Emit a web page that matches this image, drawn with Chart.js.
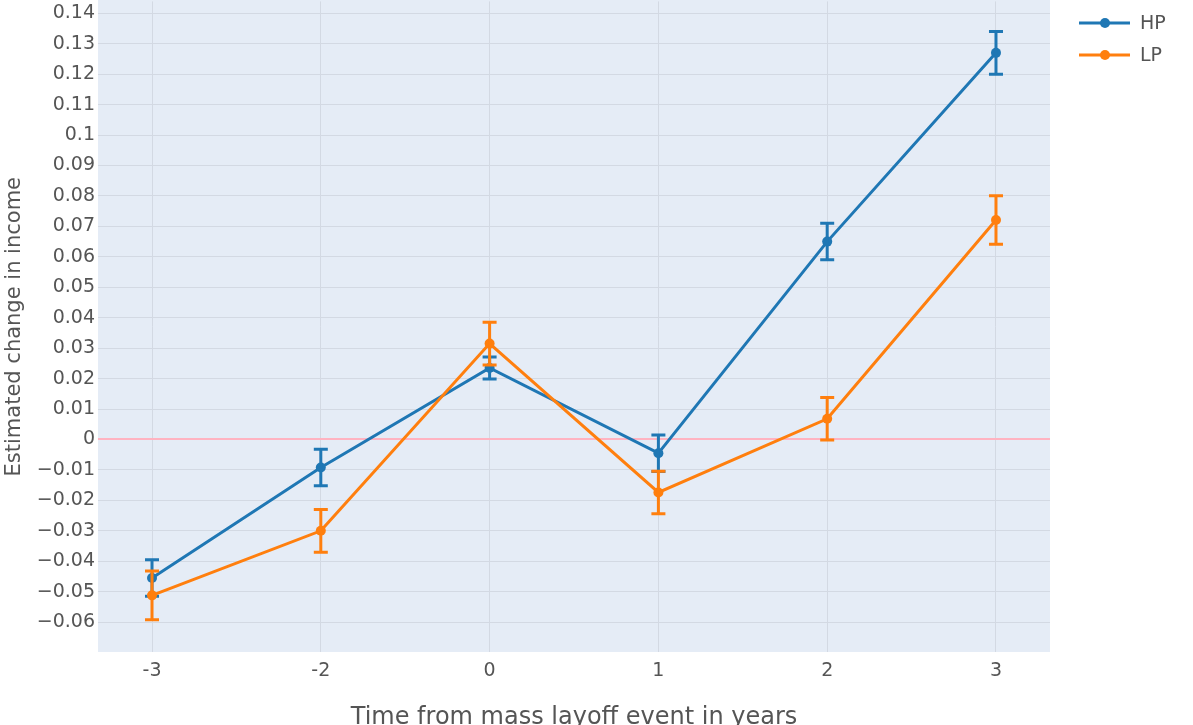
<!DOCTYPE html>
<html>
<head>
<meta charset="utf-8">
<script src="https://cdn.jsdelivr.net/npm/chart.js@4/dist/chart.umd.min.js"></script>
<style>
  html, body { margin: 0; padding: 0; background: #fff; overflow: hidden; }
  #wrap { width: 1193px; height: 725px; overflow: hidden; position: relative; }
  /* plot touches the top edge of the picture, so shift the canvas up */
  #incomeChart { position: absolute; left: 0; top: -13px; }
</style>
</head>
<body>
<div id="wrap"><canvas id="incomeChart" width="1193" height="738"></canvas></div>
<script>
// years relative to the layoff event
var years = ['-3', '-2', '0', '1', '2', '3'];

var hpValues = [-0.0455, -0.0092, 0.0235, -0.0045, 0.065, 0.127];
var hpErrors = [0.006, 0.006, 0.0036, 0.006, 0.006, 0.007];

var lpValues = [-0.0512, -0.030, 0.0315, -0.0174, 0.0068, 0.0721];
var lpErrors = [0.008, 0.007, 0.007, 0.007, 0.007, 0.008];

var FONT = 'DejaVu Sans';
var TEXT = '#555';
var SHIFT = 13;

function toPoints(vals) {
    return vals.map(function (v, i) { return { x: i, y: v }; });
}

// plot background
var plotBg = {
    id: 'plotBg',
    beforeDraw: function (chart) {
        var a = chart.chartArea, c = chart.ctx;
        c.save();
        c.fillStyle = '#e5ecf6';
        c.fillRect(a.left, a.top - SHIFT, a.right - a.left, a.bottom - a.top + SHIFT);
        c.restore();
    }
};

// vertical error bars, drawn with the dataset they belong to
var errorBars = {
    id: 'errorBars',
    afterDatasetDraw: function (chart, args) {
        var ds = chart.data.datasets[args.index];
        if (!ds.errors) return;
        var c = chart.ctx, xs = chart.scales.x, ys = chart.scales.y;
        c.save();
        c.strokeStyle = ds.borderColor;
        c.lineWidth = 3;
        ds.data.forEach(function (p, i) {
            var e = ds.errors[i];
            var x = xs.getPixelForValue(p.x);
            var y1 = ys.getPixelForValue(p.y + e);
            var y2 = ys.getPixelForValue(p.y - e);
            c.beginPath();
            c.moveTo(x, y1); c.lineTo(x, y2);
            c.moveTo(x - 7, y1); c.lineTo(x + 7, y1);
            c.moveTo(x - 7, y2); c.lineTo(x + 7, y2);
            c.stroke();
        });
        c.restore();
    }
};

// legend at the top right, line with a dot like the original
var sideLegend = {
    id: 'sideLegend',
    afterDraw: function (chart) {
        var c = chart.ctx;
        c.save();
        chart.data.datasets.forEach(function (ds, i) {
            var y = SHIFT + 23 + i * 32;
            c.strokeStyle = ds.borderColor;
            c.lineWidth = 3;
            c.beginPath();
            c.moveTo(1079, y); c.lineTo(1130, y);
            c.stroke();
            c.fillStyle = ds.borderColor;
            c.beginPath();
            c.arc(1105, y, 5, 0, Math.PI * 2);
            c.fill();
            c.fillStyle = TEXT;
            c.font = '19px "' + FONT + '"';
            c.textBaseline = 'middle';
            c.fillText(ds.label, 1140, y + 1);
        });
        c.restore();
    }
};

var ctx = document.getElementById('incomeChart').getContext('2d');
var incomeChart = new Chart(ctx, {
    type: 'line',
    data: {
        datasets: [{
            label: 'HP',
            data: toPoints(hpValues),
            errors: hpErrors,
            borderColor: '#1f77b4',
            backgroundColor: '#1f77b4',
            borderWidth: 3,
            pointRadius: 5,
            pointBorderWidth: 0,
            pointHoverRadius: 5,
            order: 2
        }, {
            label: 'LP',
            data: toPoints(lpValues),
            errors: lpErrors,
            borderColor: '#ff7f0e',
            backgroundColor: '#ff7f0e',
            borderWidth: 3,
            pointRadius: 5,
            pointBorderWidth: 0,
            pointHoverRadius: 5,
            order: 1
        }]
    },
    options: {
        responsive: false,
        animation: false,
        layout: {
            padding: { left: 0, right: 143, top: 0, bottom: 0 }
        },
        plugins: {
            legend: { display: false },
            tooltip: { enabled: false }
        },
        scales: {
            x: {
                type: 'linear',
                min: -0.32,
                max: 5.32,
                afterFit: function (s) { s.height = 73; },
                border: { display: false },
                grid: { color: '#d3d9e3', lineWidth: 1, drawTicks: false },
                ticks: {
                    stepSize: 1,
                    includeBounds: false,
                    padding: 8,
                    color: TEXT,
                    font: { family: FONT, size: 19 },
                    callback: function (v) {
                        return Number.isInteger(v) ? years[v] : '';
                    }
                },
                title: {
                    display: true,
                    text: 'Time from mass layoff event in years',
                    color: TEXT,
                    font: { family: FONT, size: 24 },
                    padding: { top: 0, bottom: -7 }
                }
            },
            y: {
                min: -0.0698,
                max: 0.1439,
                afterFit: function (s) { s.width = 98; },
                border: { display: false },
                grid: {
                    drawTicks: false,
                    color: function (c) {
                        return Math.abs(c.tick.value) < 1e-9 ? '#ffb3c1' : '#d3d9e3';
                    },
                    lineWidth: function (c) {
                        return Math.abs(c.tick.value) < 1e-9 ? 2 : 1;
                    }
                },
                ticks: {
                    stepSize: 0.01,
                    includeBounds: false,
                    padding: 3,
                    color: TEXT,
                    font: { family: FONT, size: 19 },
                    callback: function (v) {
                        var n = Number(v.toFixed(2));
                        return String(n).replace('-', '\u2212');
                    }
                },
                title: {
                    display: true,
                    text: 'Estimated change in income',
                    color: TEXT,
                    font: { family: FONT, size: 21 },
                    padding: { top: 2, bottom: 0 }
                }
            }
        }
    },
    plugins: [plotBg, errorBars, sideLegend]
});
</script>
</body>
</html>
